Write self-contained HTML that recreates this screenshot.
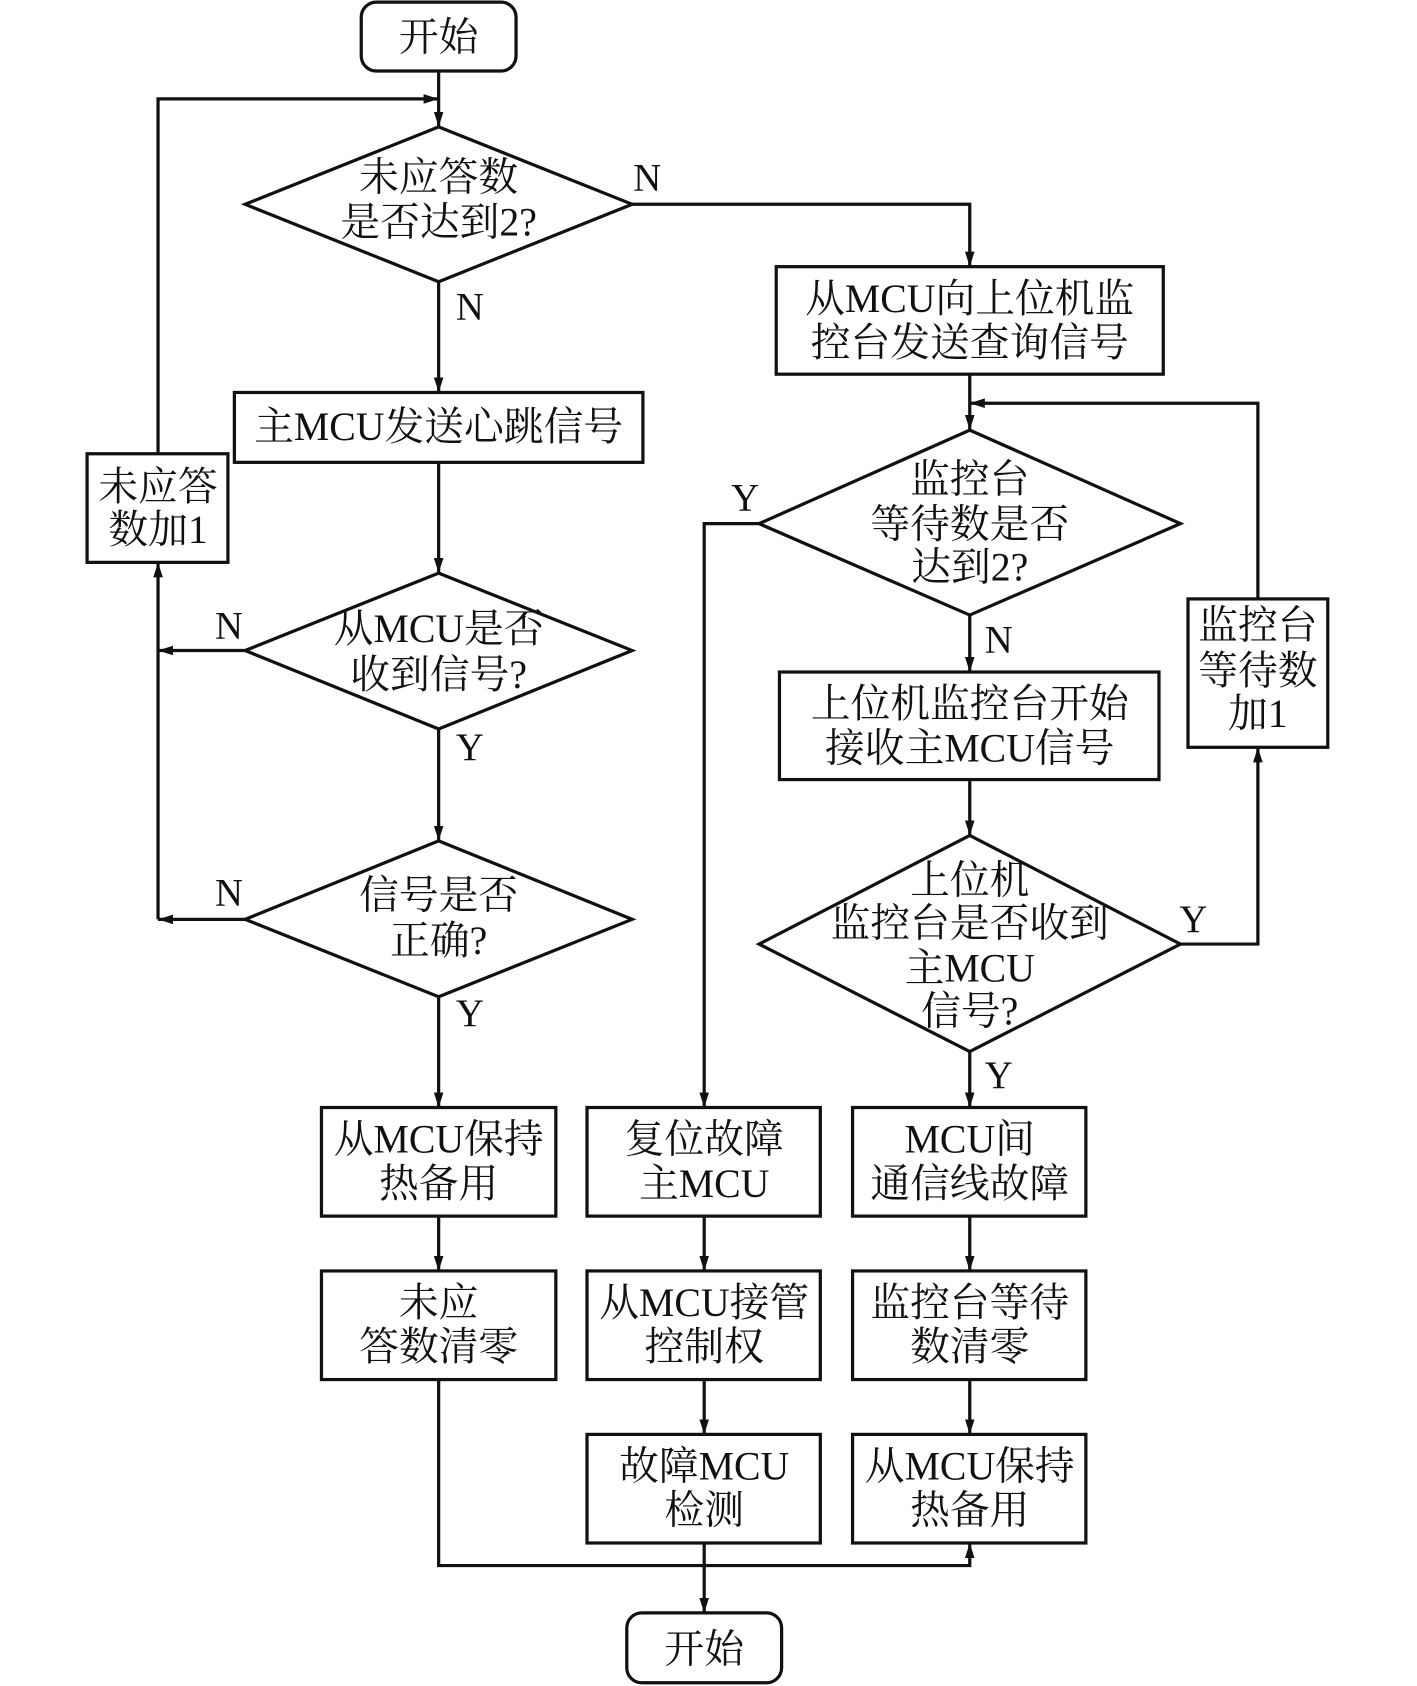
<!DOCTYPE html>
<html><head><meta charset="utf-8"><style>
html,body{margin:0;padding:0;background:#fff;}
svg{display:block;}
text{font-family:"Liberation Serif","Noto Serif CJK SC",serif;font-size:37px;fill:#111;text-anchor:middle;}
.l{font-size:36px;}
</style></head><body>
<svg width="1417" height="1686" viewBox="0 0 1318 1568" preserveAspectRatio="none" xmlns="http://www.w3.org/2000/svg">
<defs><marker id="a" markerWidth="10" markerHeight="10" refX="9" refY="5" orient="auto" markerUnits="userSpaceOnUse" viewBox="0 0 10 10"><path d="M0,0 L10,5 L0,10 z" fill="#111"/></marker>
<marker id="b" markerWidth="14" markerHeight="22" refX="22" refY="7" orient="auto" markerUnits="userSpaceOnUse" viewBox="0 0 22 14"><path d="M0,0 L22,7 L0,14 z" fill="#111"/></marker></defs>
<g stroke="#111" stroke-width="3" fill="none">
<rect x="336" y="2" width="144" height="64" rx="14"/>
<rect x="583" y="1500" width="144" height="65" rx="14"/>
<polygon points="408,118 588,190 408,262 228,190"/>
<polygon points="408,533 588,605 408,678 228,605"/>
<polygon points="408,782 588,855 408,927 228,855"/>
<polygon points="902,400 1098,487 902,572 706,487"/>
<polygon points="902,777 1098,878 902,978 706,878"/>
<rect x="218" y="365" width="380" height="65"/>
<rect x="81" y="422" width="131" height="101"/>
<rect x="722" y="248" width="360" height="100"/>
<rect x="725" y="625" width="353" height="100"/>
<rect x="1105" y="557" width="130" height="138"/>
<rect x="299" y="1030" width="218" height="101"/>
<rect x="299" y="1182" width="218" height="101"/>
<rect x="546" y="1030" width="217" height="101"/>
<rect x="546" y="1182" width="217" height="101"/>
<rect x="546" y="1334" width="217" height="101"/>
<rect x="793" y="1030" width="217" height="101"/>
<rect x="793" y="1182" width="217" height="101"/>
<rect x="793" y="1334" width="217" height="101"/>
<g marker-end="url(#b)">
<path d="M408,66 V118"/>
<path d="M147,422 V92 H408"/>
<path d="M408,262 V365"/>
<path d="M408,430 V533"/>
<path d="M228,605 H147"/>
<path d="M147,855 V523"/>
<path d="M408,678 V782"/>
<path d="M408,927 V1030"/>
<path d="M228,855 H147"/>
<path d="M408,1131 V1182"/>
<path d="M408,1283 V1456 H902 V1435"/>
<path d="M655,1435 V1500"/>
<path d="M655,1131 V1182"/>
<path d="M655,1283 V1334"/>
<path d="M902,1131 V1182"/>
<path d="M902,1283 V1334"/>
<path d="M588,190 H902 V248"/>
<path d="M902,348 V400"/>
<path d="M1170,557 V375 H902"/>
<path d="M706,487 H655 V1030"/>
<path d="M902,572 V625"/>
<path d="M902,725 V777"/>
<path d="M1098,878 H1170 V695"/>
<path d="M902,978 V1030"/>
</g>
</g>
<text x="408" y="47">开始</text>
<text x="655" y="1546">开始</text>
<text x="408" y="177">未应答数</text><text x="408" y="219">是否达到2?</text>
<text x="408" y="409">主MCU发送心跳信号</text>
<text x="408" y="597">从MCU是否</text><text x="408" y="640">收到信号?</text>
<text x="408" y="845">信号是否</text><text x="408" y="887">正确?</text>
<text x="147" y="465">未应答</text><text x="147" y="505">数加1</text>
<text x="902" y="290">从MCU向上位机监</text><text x="902" y="331">控台发送查询信号</text>
<text x="902" y="458">监控台</text><text x="902" y="500">等待数是否</text><text x="902" y="540">达到2?</text>
<text x="902" y="667">上位机监控台开始</text><text x="902" y="708">接收主MCU信号</text>
<text x="902" y="831">上位机</text><text x="902" y="871">监控台是否收到</text><text x="902" y="913">主MCU</text><text x="902" y="953">信号?</text>
<text x="1170" y="594">监控台</text><text x="1170" y="636">等待数</text><text x="1170" y="676">加1</text>
<text x="408" y="1072">从MCU保持</text><text x="408" y="1113">热备用</text>
<text x="408" y="1224">未应</text><text x="408" y="1265">答数清零</text>
<text x="655" y="1072">复位故障</text><text x="655" y="1113">主MCU</text>
<text x="655" y="1224">从MCU接管</text><text x="655" y="1265">控制权</text>
<text x="655" y="1376">故障MCU</text><text x="655" y="1417">检测</text>
<text x="902" y="1072">MCU间</text><text x="902" y="1113">通信线故障</text>
<text x="902" y="1224">监控台等待</text><text x="902" y="1265">数清零</text>
<text x="902" y="1376">从MCU保持</text><text x="902" y="1417">热备用</text>
<text class="l" x="602" y="177">N</text>
<text class="l" x="437" y="297">N</text>
<text class="l" x="213" y="594">N</text>
<text class="l" x="437" y="707">Y</text>
<text class="l" x="213" y="842">N</text>
<text class="l" x="437" y="954">Y</text>
<text class="l" x="693" y="475">Y</text>
<text class="l" x="929" y="607">N</text>
<text class="l" x="1110" y="867">Y</text>
<text class="l" x="929" y="1012">Y</text>
</svg>
</body></html>
